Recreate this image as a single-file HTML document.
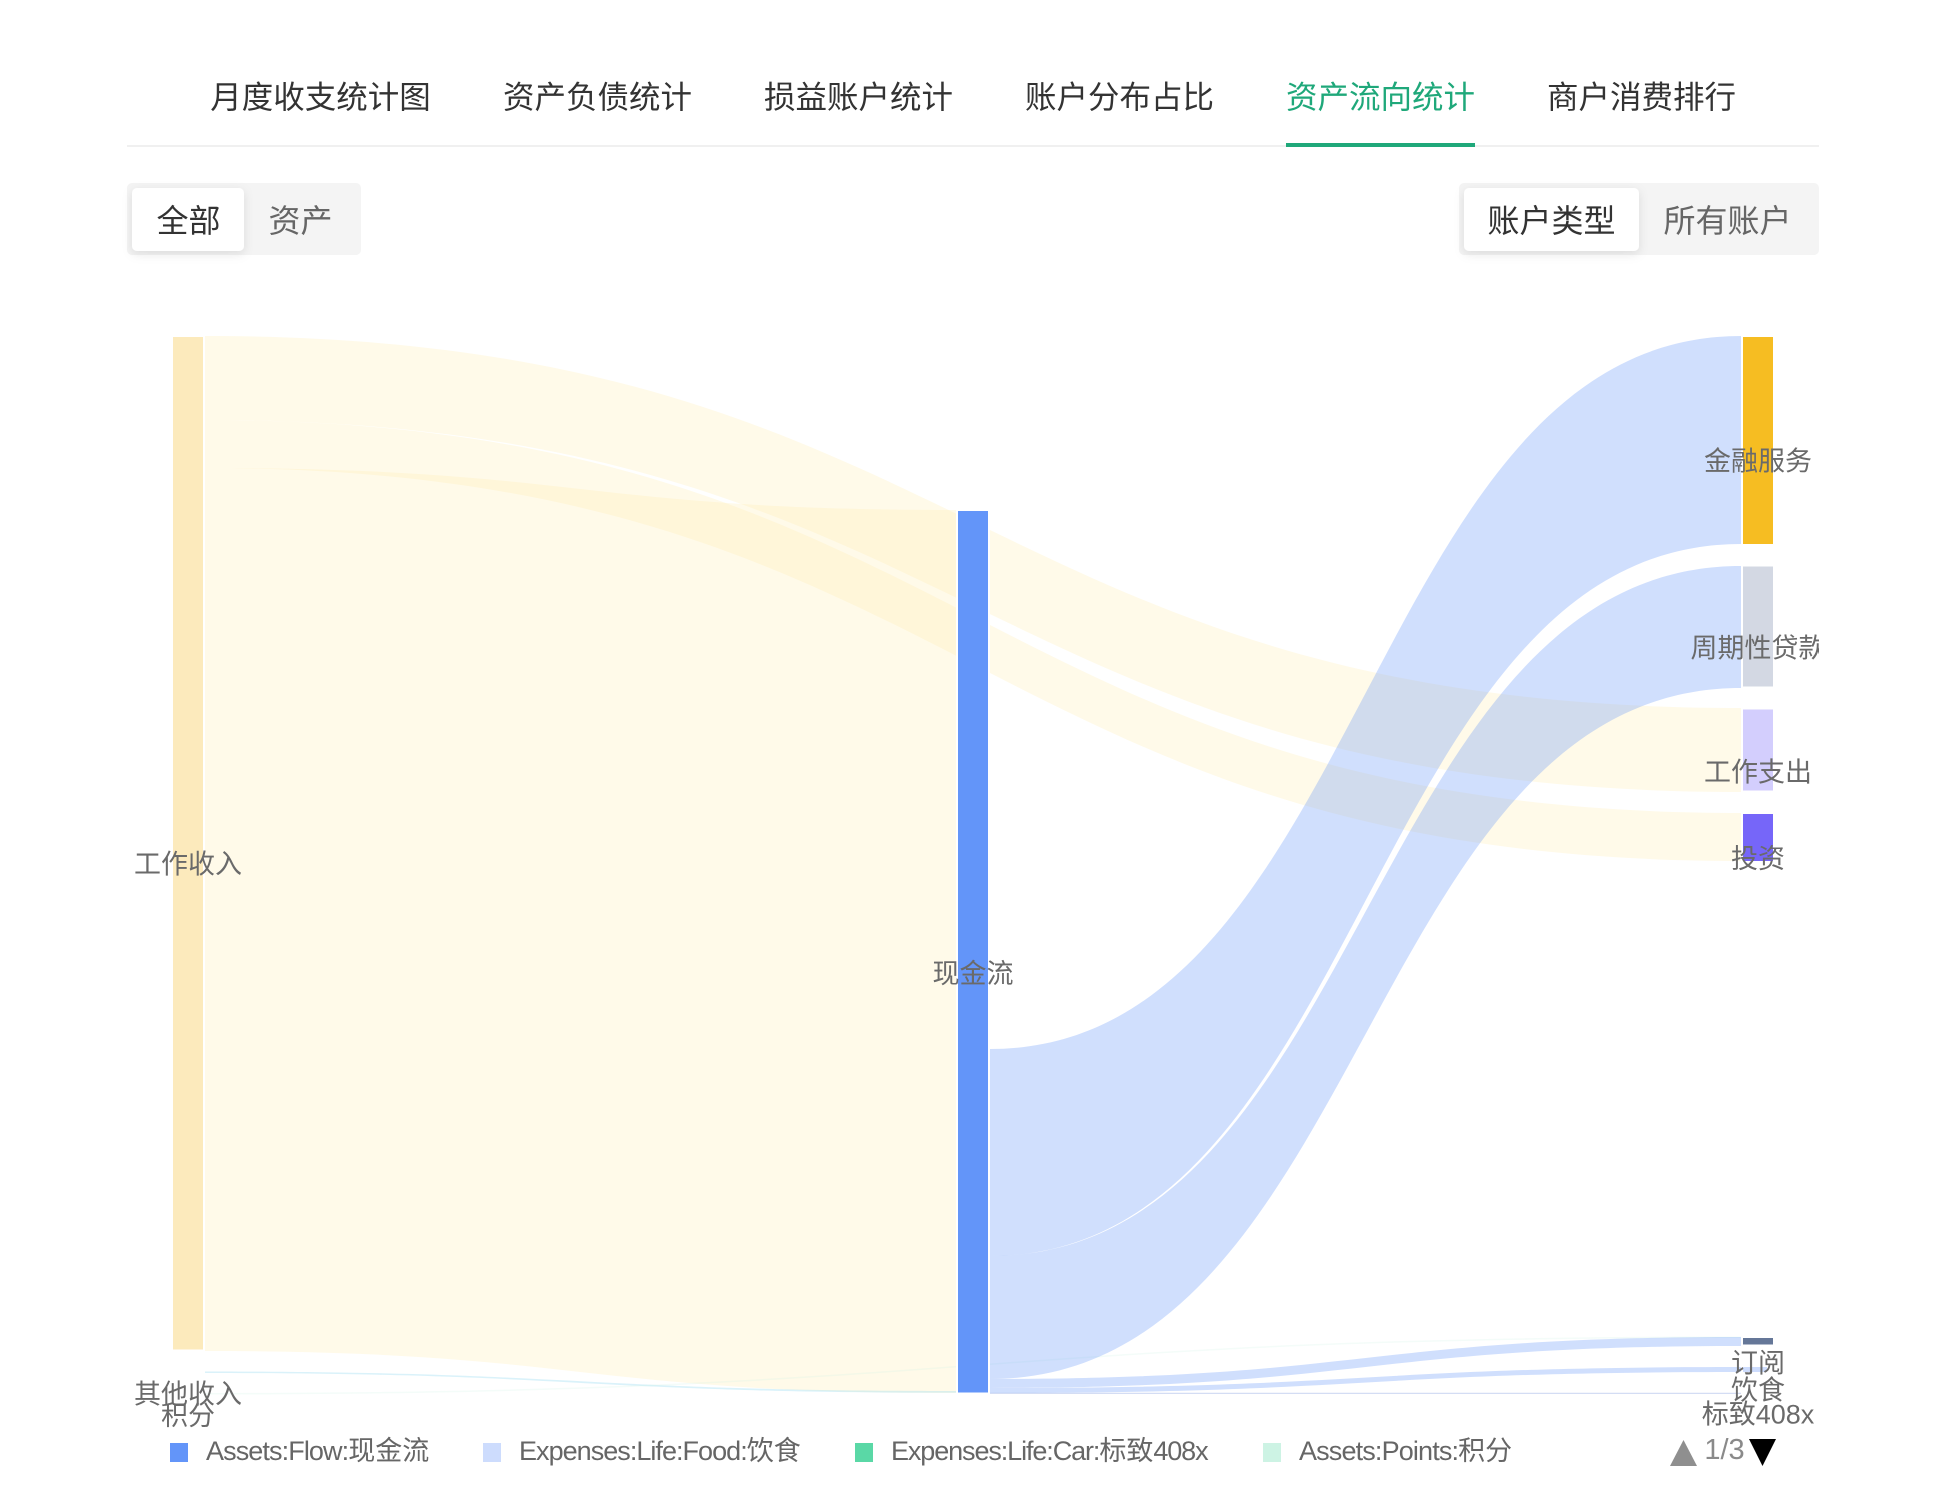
<!DOCTYPE html>
<html lang="zh">
<head>
<meta charset="utf-8">
<title>资产流向统计</title>
<style>
html,body{margin:0;padding:0;background:#fff}
body{width:1940px;height:1506px;overflow:hidden}
svg{display:block}
text{font-family:"Liberation Sans","Noto Sans CJK SC",sans-serif;dominant-baseline:central}
.tab{font-size:31.5px;fill:#333;text-anchor:middle}
.seg{font-size:32px;text-anchor:middle}
.lab{font-size:27px;fill:#6a6a6a;text-anchor:middle}
.leg{font-size:27px;fill:#666}
.lat{letter-spacing:-1.1px}
.y{fill:#ffedb5;fill-opacity:.3}
.b{fill:#6395f9;fill-opacity:.3}
.n{stroke:#fff;stroke-width:4;paint-order:stroke}
</style>
</head>
<body>
<svg width="1940" height="1506" viewBox="0 0 1940 1506" xmlns="http://www.w3.org/2000/svg">
<defs>
<filter id="sh" x="-20%" y="-20%" width="140%" height="150%"><feDropShadow dx="0" dy="3" stdDeviation="5" flood-color="#000" flood-opacity=".1"/></filter>
<clipPath id="cl"><rect x="127" y="260" width="1692" height="1200"/></clipPath>
</defs>
<rect width="1940" height="1506" fill="#fff"/>

<!-- tabs -->
<text class="tab" x="320.500" y="97">月度收支统计图</text>
<text class="tab" x="597.500" y="97">资产负债统计</text>
<text class="tab" x="858.500" y="97">损益账户统计</text>
<text class="tab" x="1119.500" y="97">账户分布占比</text>
<text class="tab" x="1380.500" y="97" style="fill:#1fa87a">资产流向统计</text>
<text class="tab" x="1641.500" y="97">商户消费排行</text>
<rect x="127" y="145" width="1692" height="2" fill="#f0f0f0"/>
<rect x="1286" y="143" width="189" height="4" fill="#1fa87a"/>

<!-- segmented controls -->
<rect x="127" y="183" width="234" height="72" rx="5" fill="#f4f4f4"/>
<rect x="132" y="188" width="112" height="63" rx="5" fill="#fff" filter="url(#sh)"/>
<text class="seg" x="188.500" y="221" fill="#333">全部</text>
<text class="seg" x="300.500" y="221" fill="#666">资产</text>
<rect x="1459" y="183" width="360" height="72" rx="5" fill="#f4f4f4"/>
<rect x="1464" y="188" width="175" height="63" rx="5" fill="#fff" filter="url(#sh)"/>
<text class="seg" x="1551.500" y="221" fill="#333">账户类型</text>
<text class="seg" x="1727.500" y="221" fill="#666">所有账户</text>

<!-- yellow links -->
<path class="y" d="M205 336C973.500 336 973.500 708 1741 708L1741 792C973.500 792 973.500 420 205 420Z"/>
<path class="y" d="M205 420C973.500 420 973.500 813 1741 813L1741 861C973.500 861 973.500 468 205 468Z"/>
<path class="y" d="M205 468C581 468 581 510 956 510L956 1393C581 1393 581 1351 205 1351Z"/>
<!-- thin links on the left -->
<path d="M205 1371.500C581 1371.500 581 1391 956 1391L956 1392.800C581 1392.800 581 1373 205 1373Z" fill="#9fdcf2" fill-opacity=".38"/>
<path d="M205 1393C973.500 1393 973.500 1336.500 1741 1336.500L1741 1338C973.500 1338 973.500 1394.500 205 1394.500Z" fill="#cdf3e4" fill-opacity=".22"/>

<!-- blue links -->
<path class="b" d="M990 1049C1366 1049 1366 336 1741 336L1741 544C1366 544 1366 1256 990 1256Z"/>
<path class="b" d="M990 1256C1366 1256 1366 566 1741 566L1741 688C1366 688 1366 1379 990 1379Z"/>
<path class="b" d="M990 1379C1366 1379 1366 1337 1741 1337L1741 1346C1366 1346 1366 1388 990 1388Z"/>
<path class="b" d="M990 1388C1366 1388 1366 1367 1741 1367L1741 1372C1366 1372 1366 1393 990 1393Z"/>
<path d="M990 1392.700L1741 1392.700L1741 1394L990 1394Z" fill="#9fb4e6" fill-opacity=".45"/>

<!-- nodes -->
<rect class="n" x="173" y="337" width="30" height="1012.500" fill="#fceabc"/>
<rect class="n" x="958" y="511" width="30" height="881.500" fill="#6395f9"/>
<rect class="n" x="1743" y="337" width="30" height="207" fill="#f6bd22"/>
<rect class="n" x="1743" y="566.500" width="30" height="120" fill="#d3d8e3"/>
<rect class="n" x="1743" y="709.500" width="30" height="81" fill="#d3cefd"/>
<rect class="n" x="1743" y="814" width="30" height="47" fill="#7666f9"/>
<rect x="1743" y="1338" width="30" height="6.500" fill="#657798"/>
<rect x="1743" y="1367" width="24" height="5" fill="#cddcfd"/>

<!-- node labels -->
<g clip-path="url(#cl)">
<text class="lab" x="188" y="864.500">工作收入</text>
<text class="lab" x="188" y="1394.500">其他收入</text>
<text class="lab" x="188" y="1416">积分</text>
<text class="lab" x="973" y="974">现金流</text>
<text class="lab" x="1758" y="461.500">金融服务</text>
<text class="lab" x="1758" y="648.500">周期性贷款</text>
<text class="lab" x="1758" y="772.500">工作支出</text>
<text class="lab" x="1758" y="859">投资</text>
<text class="lab" x="1758" y="1363.500">订阅</text>
<text class="lab" x="1758" y="1390.500">饮食</text>
<text class="lab" x="1758" y="1414.500">标致408x</text>
</g>

<!-- legend -->
<rect x="170" y="1443" width="18" height="19" fill="#6395f9"/>
<text class="leg" x="206" y="1451"><tspan style="letter-spacing:-.9px">Assets:Flow:</tspan>现金流</text>
<rect x="483" y="1443" width="18" height="19" fill="#cddcfd"/>
<text class="leg" x="519" y="1451"><tspan style="letter-spacing:-.97px">Expenses:Life:Food:</tspan>饮食</text>
<rect x="855" y="1443" width="18" height="19" fill="#5ad8a6"/>
<text class="leg" x="891" y="1451"><tspan class="lat">Expenses:Life:Car:</tspan>标致<tspan class="lat">408x</tspan></text>
<rect x="1263" y="1443" width="18" height="19" fill="#cdf3e4"/>
<text class="leg" x="1299" y="1451"><tspan style="letter-spacing:-.85px">Assets:Points:</tspan>积分</text>

<!-- pager -->
<path d="M1670 1466L1683.500 1440L1697 1466Z" fill="#8f8f8f"/>
<text x="1724.500" y="1450" font-size="29" fill="#8a8a8a" text-anchor="middle">1/3</text>
<path d="M1749 1439L1776 1439L1762.500 1466Z" fill="#000"/>
</svg>
</body>
</html>
